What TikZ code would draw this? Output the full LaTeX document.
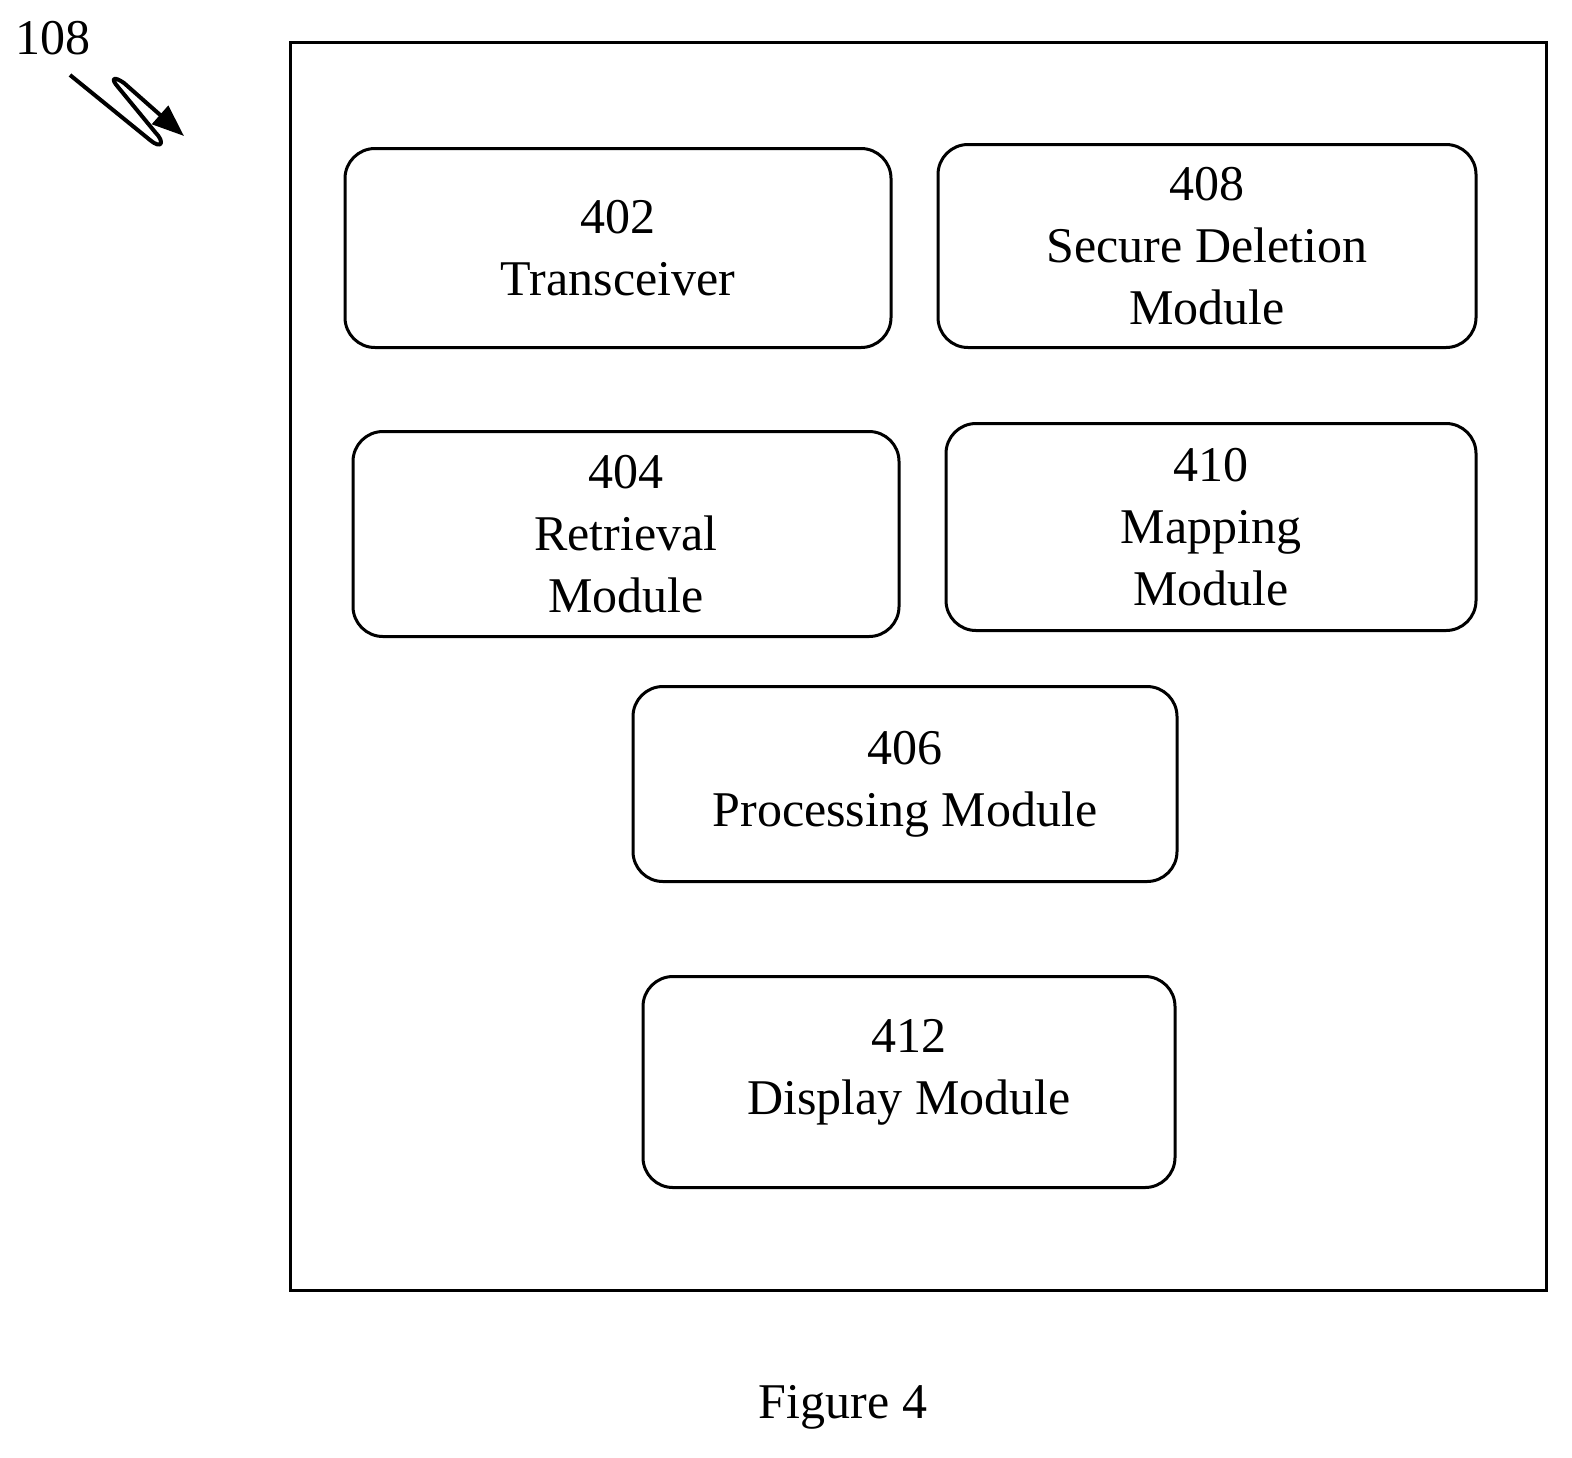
\documentclass[tikz,border=0pt]{standalone}
\usepackage{fontspec}
\setmainfont{Liberation Serif}
\usetikzlibrary{arrows.meta}
\begin{document}
\begin{tikzpicture}[x=0.5pt,y=-0.5pt,
  mod/.style={draw,line width=1.5pt,rounded corners=15pt,align=center,inner sep=0pt,
    font=\fontsize{25}{31}\selectfont},
  lbl/.style={font=\fontsize{25}{31}\selectfont,inner sep=0pt}]
\useasboundingbox (0,0) rectangle (1572,1457);
\node[draw,line width=1.5pt,minimum width=628pt,minimum height=624pt,inner sep=0pt] (outer) at (918,666) {};
\node[mod,minimum width=273pt,minimum height=99.5pt] (m402) at (618,248) {402\\Transceiver};
\node[mod,minimum width=269pt,minimum height=101.5pt] (m408) at (1207,246) {408\\Secure Deletion\\Module};
\node[mod,minimum width=273pt,minimum height=102.5pt] (m404) at (626,534) {404\\Retrieval\\Module};
\node[mod,minimum width=265pt,minimum height=103.5pt] (m410) at (1211,527) {410\\Mapping\\Module};
\node[mod,minimum width=272pt,minimum height=97.5pt] (m406) at (905,784) {406\\Processing Module};
\node[mod,minimum width=266pt,minimum height=105.5pt] (m412) at (909,1082) {412\\Display Module\\[-16pt]\mbox{}};
\node[lbl] (fig) at (843,1407) {Figure 4};
\node[lbl] (ref) at (53,38) {108};
\coordinate (a0) at (70,75);
\coordinate (a1) at (184,136);
\draw[line width=2pt,line join=round,-{Triangle[length=16pt,width=12pt]}] (a0) -- (150,140) .. controls (162,150) and (165,142) .. (155,132) -- (118,87) .. controls (110,78) and (114,76) .. (124,83) -- (a1);
\end{tikzpicture}
\end{document}
